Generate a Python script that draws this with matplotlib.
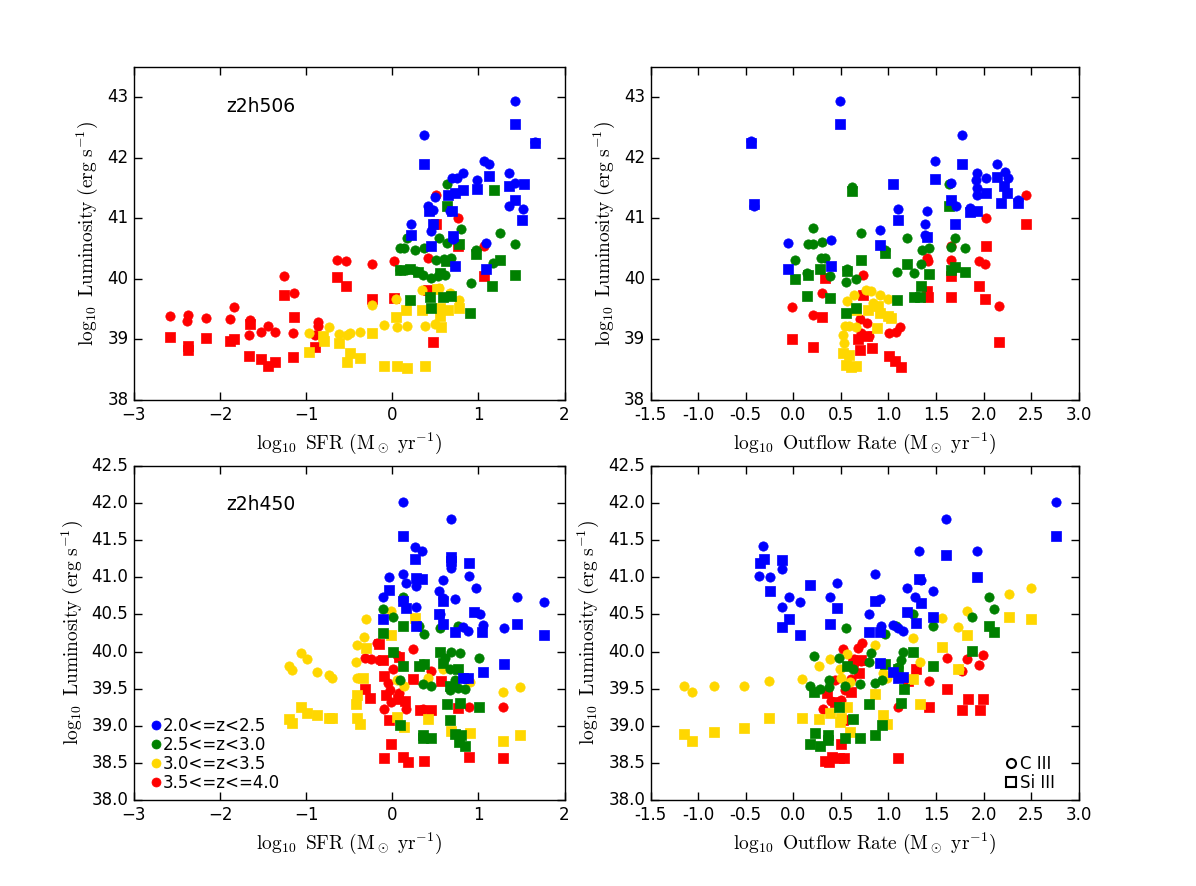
import matplotlib
matplotlib.use('Agg')
import matplotlib.pyplot as plt
from matplotlib.lines import Line2D

plt.style.use('classic')
plt.rcParams['mathtext.fontset'] = 'cm'

## z-bins (legend order) and their colours
bins = ['2.0<=z<2.5', '2.5<=z<3.0', '3.0<=z<3.5', '3.5<=z<=4.0']
colors = ['#0000ff', '#008000', '#ffd700', '#ff0000']

## ---- z2h506 : log SFR vs log L   (blue, green, yellow, red) ----
sfr506_c3 = [
    [(1.42, 42.94), (0.37, 42.37), (1.06, 41.94), (1.12, 41.89), (0.69, 41.67), (0.75, 41.67),
     (0.82, 41.74), (0.98, 41.63), (1.35, 41.75), (1.43, 41.58), (1.52, 41.16), (1.35, 41.21),
     (0.50, 41.36), (0.42, 41.20), (0.47, 41.14), (0.22, 40.91), (0.45, 40.79), (0.71, 40.66),
     (1.09, 40.60), (0.67, 41.12), (1.66, 42.26)],
    [(0.09, 40.51), (0.14, 40.51), (0.17, 40.68), (0.26, 40.47), (0.37, 40.51), (0.54, 40.67),
     (0.63, 41.56), (0.80, 40.83), (0.63, 40.59), (1.25, 40.75), (1.43, 40.58), (0.91, 39.94),
     (0.97, 40.47), (1.17, 40.26), (0.51, 40.31), (0.09, 40.15), (0.16, 40.14), (0.28, 40.13),
     (0.36, 40.07), (0.45, 40.02), (0.53, 40.04), (0.61, 40.07), (0.60, 40.33), (0.68, 40.35)],
    [(-0.97, 39.10), (-0.73, 39.20), (-0.62, 39.09), (-0.49, 39.10), (-0.37, 39.12), (-0.23, 39.57),
     (-0.10, 39.24), (0.04, 39.67), (0.06, 39.20), (0.17, 39.23), (0.34, 39.81), (0.38, 39.23),
     (0.50, 39.26), (0.54, 39.85), (0.67, 39.77), (0.77, 39.65), (-0.53, 39.07)],
    [(-2.58, 39.39), (-2.37, 39.41), (-2.38, 39.30), (-2.16, 39.35), (-1.89, 39.34), (-1.84, 39.53),
     (-1.65, 39.32), (-1.66, 39.07), (-1.52, 39.13), (-1.44, 39.22), (-1.36, 39.13), (-1.15, 39.10),
     (-1.26, 40.05), (-1.14, 39.76), (-0.86, 39.29), (-0.86, 39.22), (-0.90, 39.07), (-0.64, 40.32),
     (-0.54, 40.29), (-0.23, 40.25), (0.02, 40.30), (0.41, 40.34), (0.51, 41.39), (0.76, 41.01),
     (1.06, 40.54)],
]
sfr506_si3 = [
    [(1.42, 42.55), (0.37, 41.90), (1.66, 42.25), (1.12, 41.70), (0.98, 41.49), (0.82, 41.47),
     (0.73, 41.42), (0.65, 41.39), (1.35, 41.53), (1.53, 41.57), (1.43, 41.30), (1.51, 40.98),
     (0.43, 41.12), (0.47, 40.90), (0.22, 40.72), (0.45, 40.55), (0.70, 40.70), (0.73, 40.22),
     (1.09, 40.16), (0.69, 41.12)],
    [(0.09, 40.14), (0.20, 40.16), (0.63, 41.21), (0.78, 40.57), (0.97, 40.41), (1.18, 41.46),
     (1.25, 40.32), (1.16, 39.89), (1.43, 40.06), (0.90, 39.44), (0.20, 39.65), (0.44, 39.70),
     (0.45, 39.52), (0.59, 39.70), (0.68, 39.71), (0.30, 40.12), (0.55, 40.10), (0.62, 40.30)],
    [(-0.97, 38.79), (-0.80, 39.06), (-0.79, 38.98), (-0.62, 38.94), (-0.49, 38.78), (-0.53, 38.63),
     (-0.37, 38.69), (-0.10, 38.57), (0.06, 38.57), (0.17, 38.53), (0.38, 38.56), (0.04, 39.37),
     (0.16, 39.48), (0.34, 39.48), (0.55, 39.52), (0.55, 39.38), (0.57, 39.20), (0.65, 39.49),
     (0.77, 39.52), (0.52, 39.83), (-0.23, 39.10)],
    [(-2.58, 39.04), (-2.37, 38.89), (-2.37, 38.83), (-2.16, 39.02), (-1.89, 38.98), (-1.84, 39.01),
     (-1.65, 39.26), (-1.66, 38.72), (-1.52, 38.68), (-1.44, 38.56), (-1.36, 38.63), (-1.15, 38.71),
     (-1.26, 39.73), (-1.14, 39.37), (-0.90, 38.87), (-0.64, 40.03), (-0.54, 39.88), (-0.23, 39.66),
     (0.02, 39.68), (0.42, 39.82), (0.47, 38.96), (0.51, 40.90), (0.76, 40.54), (1.06, 40.04)],
]

## ---- z2h506 : log outflow rate vs log L ----
out506_c3 = [
    [(0.49, 42.94), (-0.44, 42.27), (-0.41, 41.21), (-0.06, 40.60), (0.40, 40.65), (0.91, 40.80),
     (1.10, 41.16), (1.40, 41.12), (1.38, 40.91), (1.38, 40.72), (1.49, 41.94), (1.77, 42.37),
     (1.66, 41.58), (1.71, 41.21), (1.93, 41.74), (1.92, 41.63), (1.93, 41.50), (1.93, 41.38),
     (2.03, 41.67), (2.14, 41.90), (2.22, 41.76), (2.26, 41.67), (2.36, 41.30), (1.86, 41.17)],
    [(0.21, 40.84), (0.15, 40.58), (0.21, 40.58), (0.30, 40.61), (0.02, 40.31), (0.14, 40.09),
     (0.29, 40.35), (0.33, 40.35), (0.39, 40.04), (0.55, 39.95), (0.56, 40.16), (0.66, 40.00),
     (0.62, 41.52), (0.71, 40.76), (0.96, 40.47), (1.19, 40.67), (1.09, 40.11), (1.27, 40.10),
     (1.35, 40.47), (1.43, 40.51), (1.34, 40.24), (1.64, 41.57), (1.66, 40.52), (1.70, 40.68),
     (1.80, 40.51)],
    [(0.52, 39.08), (0.54, 39.22), (0.56, 39.63), (0.64, 39.73), (0.76, 39.82), (0.82, 39.80),
     (0.91, 39.74), (0.99, 39.66), (0.59, 39.23), (0.66, 39.20), (0.84, 39.60), (0.53, 38.94)],
    [(-0.01, 39.54), (0.21, 39.41), (0.30, 39.76), (0.73, 40.06), (1.01, 39.11), (1.12, 39.20),
     (1.08, 39.13), (0.70, 39.33), (0.77, 39.27), (1.40, 40.35), (1.41, 40.29), (1.66, 40.55),
     (1.66, 40.31), (1.95, 40.30), (2.01, 40.25), (2.02, 41.01), (2.16, 39.55), (2.44, 41.39),
     (0.80, 39.06), (0.71, 39.11)],
]
out506_si3 = [
    [(-0.44, 42.25), (-0.41, 41.24), (0.49, 42.55), (-0.06, 40.16), (0.40, 40.22), (0.91, 40.56),
     (1.10, 40.98), (1.05, 41.57), (1.40, 40.69), (1.49, 41.65), (1.77, 41.90), (1.66, 41.30),
     (1.70, 40.90), (1.93, 41.12), (2.03, 41.41), (2.14, 41.69), (2.18, 41.25), (2.21, 41.53),
     (2.25, 41.42), (2.36, 41.25), (1.86, 41.10)],
    [(0.62, 41.45), (0.02, 40.00), (0.14, 39.71), (0.15, 40.06), (0.28, 40.17), (0.39, 39.69),
     (0.55, 39.44), (0.66, 39.52), (0.71, 40.32), (0.56, 40.13), (0.96, 40.42), (1.09, 39.65),
     (1.19, 40.25), (1.27, 39.70), (1.33, 39.70), (1.34, 39.89), (1.43, 40.08), (1.64, 41.20),
     (1.66, 40.14), (1.70, 40.20), (1.80, 40.11)],
    [(0.52, 38.78), (0.55, 38.58), (0.61, 38.55), (0.66, 38.56), (0.59, 38.75), (0.78, 39.49),
     (0.89, 39.55), (0.99, 39.38), (1.03, 39.35), (0.88, 39.19), (0.91, 39.44), (0.66, 39.49)],
    [(-0.01, 39.01), (0.21, 38.88), (0.30, 39.37), (0.33, 40.02), (0.73, 39.73), (0.68, 39.00),
     (0.70, 38.83), (0.83, 38.86), (1.01, 38.72), (1.07, 38.64), (1.13, 38.55), (1.40, 39.80),
     (1.41, 39.70), (1.66, 40.04), (1.66, 39.70), (1.95, 39.88), (2.01, 39.66), (2.02, 40.54),
     (2.16, 38.96), (2.44, 40.90), (0.77, 39.05)],
]

## ---- z2h450 : log SFR vs log L ----
sfr450_c3 = [
    [(0.12, 42.02), (0.68, 41.78), (0.26, 41.41), (0.35, 41.35), (0.12, 41.05), (-0.04, 41.00),
     (0.16, 40.93), (0.27, 40.88), (0.59, 40.97), (0.68, 41.12), (0.89, 41.02), (0.97, 40.86),
     (0.54, 40.81), (0.59, 40.72), (0.73, 40.71), (-0.11, 40.73), (0.12, 40.70), (0.27, 40.60),
     (0.55, 40.50), (1.02, 40.50), (1.05, 40.36), (0.82, 40.33), (0.88, 40.28), (1.30, 40.32),
     (1.45, 40.74), (1.76, 40.67)],
    [(0.12, 40.74), (-0.11, 40.57), (0.01, 40.47), (0.31, 40.35), (0.37, 40.24), (0.55, 40.32),
     (0.76, 40.35), (0.68, 40.00), (0.79, 39.98), (1.01, 39.91), (0.61, 39.91), (0.67, 39.77),
     (0.36, 39.83), (0.09, 39.62), (0.36, 39.56), (0.45, 39.54), (0.73, 39.62), (0.67, 39.48),
     (0.76, 39.51), (0.84, 39.50)],
    [(-1.20, 39.80), (-1.17, 39.75), (-1.06, 39.98), (-0.99, 39.90), (-0.88, 39.72), (-0.73, 39.68),
     (-0.70, 39.64), (-0.42, 39.86), (-0.41, 40.09), (-0.33, 40.20), (-0.30, 40.44), (-0.41, 39.64),
     (-0.02, 40.55), (0.05, 39.62), (0.14, 39.53), (0.42, 39.64), (0.59, 39.77), (0.90, 39.59),
     (1.28, 39.46), (1.48, 39.52)],
    [(-0.18, 40.11), (0.24, 40.04), (-0.32, 39.91), (-0.25, 39.90), (-0.15, 39.89), (0.05, 39.95),
     (0.01, 39.77), (0.45, 39.74), (-0.05, 39.58), (-0.03, 39.48), (0.08, 39.44), (-0.01, 39.32),
     (0.16, 39.23), (-0.10, 39.23), (0.36, 39.23), (0.89, 39.26), (1.28, 39.26)],
]
sfr450_si3 = [
    [(0.12, 41.56), (0.26, 41.25), (0.68, 41.28), (0.68, 41.22), (0.89, 41.19), (0.28, 40.99),
     (0.35, 40.98), (-0.04, 40.83), (0.12, 40.68), (0.16, 40.59), (0.59, 40.68), (-0.11, 40.44),
     (0.27, 40.34), (0.54, 40.51), (0.59, 40.37), (0.73, 40.26), (0.95, 40.53), (1.04, 40.26),
     (1.45, 40.37), (1.76, 40.23), (1.30, 39.83), (1.05, 39.73), (0.82, 39.64), (0.88, 39.65)],
    [(-0.11, 40.25), (0.12, 40.34), (0.01, 40.00), (0.12, 39.80), (0.31, 39.81), (0.37, 39.83),
     (0.55, 39.99), (0.59, 39.84), (0.76, 39.77), (0.67, 39.53), (0.63, 39.30), (0.79, 39.31),
     (1.01, 39.26), (0.67, 39.08), (0.09, 39.01), (0.36, 38.87), (0.36, 38.83), (0.45, 38.84),
     (0.73, 38.89), (0.80, 38.87), (0.78, 38.78), (0.84, 38.73)],
    [(-1.20, 39.09), (-1.17, 39.04), (-1.06, 39.26), (-0.99, 39.17), (-0.88, 39.14), (-0.73, 39.11),
     (-0.70, 39.10), (-0.41, 39.41), (-0.42, 39.29), (-0.41, 39.10), (-0.37, 39.02), (-0.30, 40.05),
     (-0.02, 40.22), (0.26, 40.45), (0.05, 39.12), (0.14, 38.99), (0.42, 39.09), (0.68, 38.93),
     (0.90, 38.91), (1.28, 38.79), (1.48, 38.88), (-0.34, 39.64)],
    [(-0.15, 40.10), (-0.11, 39.89), (0.08, 39.93), (-0.10, 39.67), (0.24, 39.63), (0.57, 39.61),
     (-0.32, 39.49), (-0.26, 39.37), (-0.07, 39.41), (0.07, 39.36), (0.15, 39.34), (0.32, 39.21),
     (0.45, 39.21), (0.76, 39.24), (-0.04, 39.08), (-0.01, 38.75), (-0.10, 38.57), (0.13, 38.58),
     (0.18, 38.51), (0.37, 38.52), (0.89, 38.58), (1.28, 38.57)],
]

## ---- z2h450 : log outflow rate vs log L ----
out450_c3 = [
    [(2.76, 42.02), (1.60, 41.78), (-0.32, 41.42), (-0.36, 41.02), (-0.25, 41.00), (-0.12, 41.11),
     (-0.05, 40.73), (-0.12, 40.60), (0.07, 40.67), (0.38, 40.74), (0.46, 40.93), (0.86, 41.05),
     (0.79, 40.50), (0.91, 40.71), (1.32, 41.36), (1.34, 40.97), (1.19, 40.86), (1.28, 40.73),
     (1.47, 40.81), (1.93, 41.36), (1.05, 40.36), (1.10, 40.32), (1.15, 40.28), (0.92, 40.34)],
    [(0.22, 39.94), (0.55, 40.32), (0.48, 39.91), (0.63, 39.77), (0.82, 39.98), (0.80, 39.86),
     (0.96, 40.24), (1.26, 40.50), (1.47, 40.35), (1.08, 40.35), (1.15, 39.99), (2.06, 40.73),
     (2.11, 40.57), (1.88, 40.47), (1.13, 39.89), (0.17, 39.54), (0.28, 39.50), (0.37, 39.62),
     (0.37, 39.52), (0.54, 39.54), (0.70, 39.56), (0.86, 39.58), (0.93, 39.62), (1.10, 39.79)],
    [(-1.15, 39.53), (-1.07, 39.46), (-0.83, 39.53), (-0.52, 39.53), (-0.26, 39.61), (0.09, 39.63),
     (0.27, 39.80), (0.39, 39.90), (0.56, 39.97), (0.49, 39.76), (0.50, 39.64), (0.60, 39.59),
     (0.86, 40.09), (0.94, 39.71), (0.98, 39.64), (1.26, 40.19), (1.33, 39.86), (1.56, 40.45),
     (1.73, 40.33), (1.83, 40.55), (2.27, 40.78), (2.50, 40.86), (1.74, 39.76)],
    [(0.52, 40.04), (0.68, 40.05), (0.72, 40.11), (0.64, 39.90), (0.71, 39.88), (0.61, 39.63),
     (0.54, 39.48), (0.44, 39.62), (0.50, 39.35), (0.40, 39.34), (0.31, 39.23), (1.10, 39.25),
     (1.43, 39.60), (1.62, 39.92), (1.77, 39.74), (1.83, 39.90), (1.95, 39.82), (1.99, 39.95)],
]
out450_si3 = [
    [(2.76, 41.56), (1.60, 41.30), (1.93, 41.00), (-0.35, 41.20), (-0.31, 41.25), (-0.12, 41.23),
     (-0.25, 40.82), (0.17, 40.90), (-0.05, 40.44), (-0.12, 40.33), (0.07, 40.23), (0.38, 40.37),
     (0.46, 40.59), (0.86, 40.68), (0.79, 40.27), (0.91, 40.27), (1.32, 40.98), (1.34, 40.66),
     (1.19, 40.54), (1.29, 40.38), (1.47, 40.47), (0.91, 39.84), (1.05, 39.73), (1.10, 39.64),
     (1.15, 39.66)],
    [(0.22, 39.46), (0.48, 39.26), (0.63, 39.09), (0.70, 38.83), (0.54, 38.83), (0.36, 38.87),
     (0.36, 38.81), (0.23, 38.90), (0.17, 38.75), (0.28, 38.73), (0.80, 39.30), (0.86, 38.87),
     (0.93, 39.01), (0.96, 39.83), (1.13, 39.31), (1.16, 39.50), (1.10, 39.77), (1.26, 40.00),
     (1.47, 39.81), (1.88, 40.01), (2.06, 40.35), (2.11, 40.26), (0.56, 39.80)],
    [(-1.15, 38.89), (-1.07, 38.79), (-0.83, 38.92), (-0.52, 38.97), (-0.26, 39.11), (0.09, 39.10),
     (0.27, 39.09), (0.39, 39.17), (0.49, 39.05), (0.50, 39.11), (0.56, 39.26), (0.60, 38.92),
     (0.86, 39.43), (0.94, 39.14), (0.98, 39.03), (1.26, 39.63), (1.33, 39.29), (1.56, 40.06),
     (1.73, 39.76), (1.83, 40.23), (2.27, 40.47), (2.50, 40.44)],
    [(0.35, 39.44), (0.44, 39.32), (0.52, 39.08), (0.50, 38.75), (0.61, 39.45), (0.69, 39.71),
     (0.71, 39.89), (0.63, 39.86), (0.33, 38.52), (0.37, 38.51), (0.41, 38.58), (0.48, 38.57),
     (0.53, 38.56), (1.10, 38.57), (1.21, 39.60), (1.29, 39.76), (1.43, 39.25), (1.62, 39.49),
     (1.77, 39.21), (1.84, 39.36), (1.96, 39.21), (1.99, 39.36)],
]

ylab = r'$\log_{10}\ \mathrm{Luminosity}\ (\mathrm{erg\ s^{-1}})$'
xlab_sfr = r'$\log_{10}\ \mathrm{SFR}\ (\mathrm{M_\odot\ yr^{-1}})$'
xlab_out = r'$\log_{10}\ \mathrm{Outflow\ Rate}\ (\mathrm{M_\odot\ yr^{-1}})$'


def draw(ax, c3, si3):
    # red first so the low-z points sit on top
    for i in [3, 2, 1, 0]:
        x, y = zip(*c3[i])
        ax.scatter(x, y, s=45, marker='o', c=colors[i], edgecolors=colors[i], linewidths=0.5)
        x, y = zip(*si3[i])
        ax.scatter(x, y, s=45, marker='s', c=colors[i], edgecolors=colors[i], linewidths=0.5)


fig = plt.figure(figsize=(11.96, 8.86), dpi=100, facecolor='white')
ax1 = fig.add_axes([0.112, 0.5485, 0.360, 0.376])
ax2 = fig.add_axes([0.544, 0.5485, 0.358, 0.376])
ax3 = fig.add_axes([0.112, 0.097, 0.360, 0.377])
ax4 = fig.add_axes([0.544, 0.097, 0.358, 0.377])

draw(ax1, sfr506_c3, sfr506_si3)
draw(ax2, out506_c3, out506_si3)
draw(ax3, sfr450_c3, sfr450_si3)
draw(ax4, out450_c3, out450_si3)

for ax in [ax1, ax2]:
    ax.set_ylim(38, 43.5)
    ax.set_yticks([38, 39, 40, 41, 42, 43])
for ax in [ax3, ax4]:
    ax.set_ylim(38, 42.5)
    ax.set_yticks([38.0, 38.5, 39.0, 39.5, 40.0, 40.5, 41.0, 41.5, 42.0, 42.5])
    ax.set_yticklabels(['%.1f' % v for v in ax.get_yticks()])
for ax in [ax1, ax3]:
    ax.set_xlim(-3, 2)
    ax.set_xticks([-3, -2, -1, 0, 1, 2])
    ax.set_xlabel(xlab_sfr, fontsize=14)
for ax in [ax2, ax4]:
    ax.set_xlim(-1.5, 3.0)
    ax.set_xticks([-1.5, -1.0, -0.5, 0.0, 0.5, 1.0, 1.5, 2.0, 2.5, 3.0])
    ax.set_xticklabels(['%.1f' % v for v in ax.get_xticks()])
    ax.set_xlabel(xlab_out, fontsize=14)
for ax in [ax1, ax2, ax3, ax4]:
    ax.set_ylabel(ylab, fontsize=14)
    ax.tick_params(labelsize=12, length=6, width=1)

ax1.text(-1.93, 42.84, 'z2h506', fontsize=13.5, va='center')
ax3.text(-1.93, 41.98, 'z2h450', fontsize=13.5, va='center')

## legends
zh = [Line2D([], [], ls='none', marker='o', ms=6.5, mfc=c, mec=c) for c in colors]
ax3.legend(zh, bins, loc='lower left', bbox_to_anchor=(0.02, 0.0), frameon=False,
           numpoints=1, fontsize=12, handlelength=0.6, handletextpad=0.1,
           labelspacing=0.05, borderaxespad=0.2, borderpad=0.3)
lh = [Line2D([], [], ls='none', marker='o', ms=6.5, mfc='none', mec='k', mew=1.5),
      Line2D([], [], ls='none', marker='s', ms=6.5, mfc='none', mec='k', mew=1.5)]
ax4.legend(lh, ['C III', 'Si III'], loc='lower right', bbox_to_anchor=(0.965, 0.0),
           frameon=False, numpoints=1, fontsize=12, handlelength=0.6, handletextpad=0.25,
           labelspacing=0.05, borderaxespad=0.2, borderpad=0.3)

plt.savefig('out.png', dpi=100, facecolor='white')
